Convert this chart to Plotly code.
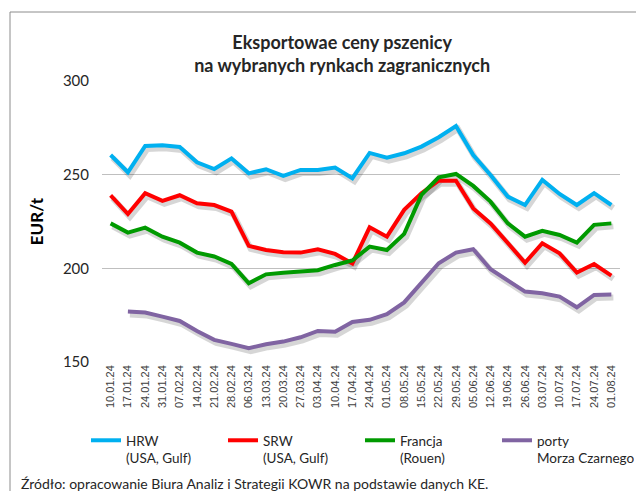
import plotly.graph_objects as go

dates = ["10.01.24","17.01.24","24.01.24","31.01.24","07.02.24","14.02.24","21.02.24","28.02.24",
         "06.03.24","13.03.24","20.03.24","27.03.24","03.04.24","10.04.24","17.04.24","24.04.24",
         "01.05.24","08.05.24","15.05.24","22.05.24","29.05.24","05.06.24","12.06.24","19.06.24",
         "26.06.24","03.07.24","10.07.24","17.07.24","24.07.24","01.08.24"]

hrw = [260.5,251.3,265.3,265.7,264.8,256.6,253.0,258.7,250.7,252.9,249.3,252.5,252.5,253.8,248.1,
       261.6,259.1,261.4,265.0,270.0,276.0,260.5,249.8,238.3,233.8,247.2,239.7,233.8,240.1,233.8]
srw = [239.0,229.0,240.1,236.0,239.0,234.7,233.8,230.3,212.0,209.8,208.6,208.4,210.2,207.7,202.6,
       221.9,216.9,231.2,240.1,246.8,246.8,232.0,224.0,213.4,203.0,213.4,208.0,197.7,202.3,196.1]
francja = [224.0,219.1,221.7,216.9,213.7,208.4,206.3,202.3,192.0,196.8,197.7,198.4,199.0,201.8,204.2,
           211.6,209.8,218.4,239.2,248.6,250.4,244.0,235.6,224.0,216.9,220.0,217.8,213.7,223.2,224.0]
porty = [None,176.9,176.4,174.2,171.9,166.6,161.8,159.7,157.4,159.5,160.9,163.2,166.6,166.2,171.4,
         172.5,175.5,181.8,192.0,202.7,208.4,210.2,199.5,193.5,187.6,186.7,184.9,179.2,185.8,186.0]

series = [
    ("HRW<br>(USA, Gulf)", hrw, "#00B0F0"),
    ("SRW<br>(USA, Gulf)", srw, "#FF0000"),
    ("Francja<br>(Rouen)", francja, "#009A00"),
    ("porty<br>Morza Czarnego", porty, "#8064A2"),
]

W, H = 636, 491
ML, MR, MT, MB = 102, 16, 81, 129
PW, PH = W - ML - MR, H - MT - MB
YMIN, YMAX = 150, 300
n = len(dates)
# shadow offset (px) converted to axis units
dx = 2.0 * n / PW
dy = 3.0 * (YMAX - YMIN) / PH

fig = go.Figure()
# soft drop shadows (drawn on hidden, slightly shifted axes)
for name, vals, col in series:
    fig.add_trace(go.Scatter(x=dates, y=vals, mode="lines", showlegend=False, hoverinfo="skip",
                             line=dict(color="rgba(0,0,0,0.16)", width=6),
                             xaxis="x", yaxis="y"))
# main lines
for name, vals, col in series:
    fig.add_trace(go.Scatter(x=dates, y=vals, name=name, mode="lines",
                             line=dict(color=col, width=4), xaxis="x2", yaxis="y2"))

fig.update_layout(
    width=W, height=H,
    margin=dict(l=ML, r=MR, t=MT, b=MB, autoexpand=False),
    paper_bgcolor="white", plot_bgcolor="white",
    font=dict(family="Lato", color="#262626"),
    title=dict(text="<b>Eksportowae ceny pszenicy<br>na wybranych rynkach zagranicznych</b>",
               x=0.538, xref="container", xanchor="center",
               y=1 - 49/H, yref="container", yanchor="top",
               font=dict(size=18, family="Lato", color="#262626")),
    showlegend=True,
    legend=dict(orientation="h", xref="paper", yref="paper",
                x=(86 - ML)/PW, xanchor="left", y=(MT + PH - 425)/PH, yanchor="top",
                font=dict(size=13.5, family="Lato", color="#262626"),
                entrywidth=92, valign="top", traceorder="normal",
                bgcolor="rgba(0,0,0,0)"),
    xaxis=dict(type="category", categoryarray=dates, range=[-0.5 - dx, n - 0.5 - dx],
               visible=False, showgrid=False),
    yaxis=dict(range=[YMIN + dy, YMAX + dy], visible=False, showgrid=False),
    xaxis2=dict(type="category", categoryarray=dates, overlaying="x", range=[-0.5, n - 0.5],
                tickangle=-90, showgrid=False, showline=False, ticks="",
                tickfont=dict(size=11, family="Liberation Sans", color="#404040"), side="bottom"),
    yaxis2=dict(overlaying="y", side="left", range=[YMIN, YMAX], tickvals=[150, 200, 250, 300],
                showgrid=True, gridcolor="#BFBFBF", gridwidth=1, zeroline=False, showline=False,
                ticklabelstandoff=12,
                tickfont=dict(size=15, family="Lato", color="#262626"),
                title=dict(text="<b>EUR/t</b>", font=dict(size=17, family="Lato", color="#000000"),
                           standoff=14)),
)

fig.add_annotation(text="Źródło: opracowanie Biura Analiz i Strategii KOWR na podstawie danych KE.",
                   xref="paper", yref="paper", x=(19 - ML) / PW, y=(MT + PH - 483) / PH,
                   xanchor="left", yanchor="middle", showarrow=False,
                   font=dict(size=14, family="Lato", color="#262626"))
fig.add_shape(type="rect", xref="paper", yref="paper",
              x0=(10 - ML) / PW, x1=2, y0=-1, y1=(MT + PH - 12) / PH,
              line=dict(color="#8C8C8C", width=1), fillcolor="rgba(0,0,0,0)", layer="below")

fig.write_html("out.html", config={"displayModeBar": False},
               post_script="document.body.style.margin='0';")
